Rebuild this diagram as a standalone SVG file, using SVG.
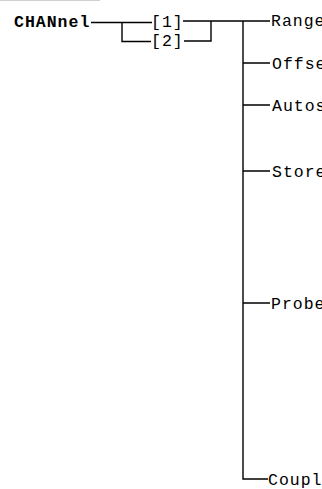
<svg xmlns="http://www.w3.org/2000/svg" width="322" height="489" viewBox="0 0 322 489">
<style>
.t{font-family:"Liberation Mono","DejaVu Sans Mono",monospace;font-size:16.5px;letter-spacing:1px;fill:#000}
.b{font-weight:bold}
.c{stroke:#000;stroke-width:1.4;fill:none}
</style>
<rect width="322" height="489" fill="#fff"/>
<line x1="0" y1="0.5" x2="100" y2="0.5" stroke="#d0d0d0" stroke-width="1"/>
<g id="connectors">
<path class="c" d="M91 22.5H152M122 22.5V41.5H151"/>
<path class="c" d="M183 21H270M184 41H211V21"/>
<path class="c" d="M243 21V479H268"/>
<path class="c" d="M243 63H270M243 105H270M243 171H270M243 303H270"/>
</g>
<g id="n-channel"><text class="t b" x="14" y="27">CHANnel</text></g>
<g id="n-1"><text class="t" x="151" y="27">[1]</text></g>
<g id="n-2"><text class="t" x="151" y="46">[2]</text></g>
<g id="n-range"><text class="t" x="271" y="26">Range</text></g>
<g id="n-offset"><text class="t" x="272" y="69">Offse</text></g>
<g id="n-autos"><text class="t" x="272" y="111">Autos</text></g>
<g id="n-store"><text class="t" x="272" y="177">Store</text></g>
<g id="n-probe"><text class="t" x="271" y="309">Probe</text></g>
<g id="n-coupl"><text class="t" x="268" y="485">Coupl</text></g>
</svg>
